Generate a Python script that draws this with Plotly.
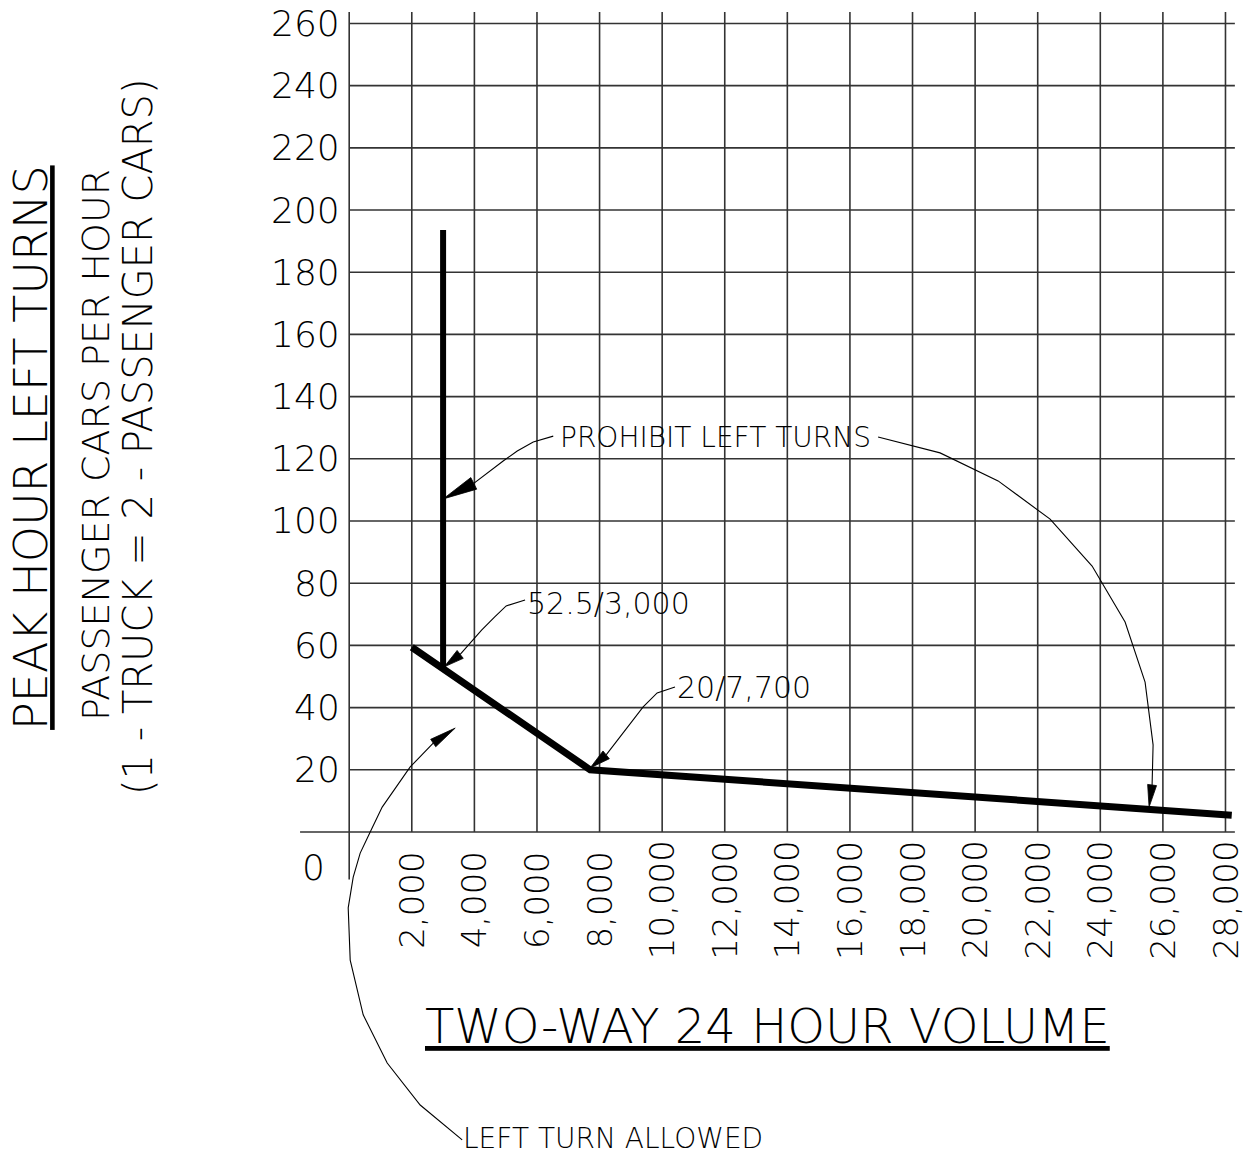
import math
import plotly.graph_objects as go

# ---------------- data ----------------
x_ticks = [2000, 4000, 6000, 8000, 10000, 12000, 14000, 16000, 18000, 20000, 22000, 24000, 26000, 28000]
x_tick_labels = ["2,000", "4,000", "6,000", "8,000", "10,000", "12,000", "14,000",
                 "16,000", "18,000", "20,000", "22,000", "24,000", "26,000", "28,000"]
y_ticks = [20, 40, 60, 80, 100, 120, 140, 160, 180, 200, 220, 240, 260]
y_tick_labels = ["20", "40", "60", "80", "100", "120", "140", "160", "180", "200", "220", "240", "260"]

# threshold curve (two-way 24h volume vs peak hour left turns)
threshold_volume = [2000, 3000, 7700, 28200]
threshold_left_turns = [59.4, 52.5, 20, 5.4]

# vertical prohibit line at 3,000
prohibit_volume = [3000, 3000]
prohibit_left_turns = [193.6, 52.5]

# callout leaders (volume, left turns) ending at an arrow tip
leader_prohibit_left_x = [6520, 5880, 5370, 4920, 3980]
leader_prohibit_left_y = [127.3, 125.4, 122.5, 119.3, 112.1]
tip_prohibit_left = (3003, 107.1)

leader_prohibit_right_x = [16900, 18880, 20735, 22396, 23738, 24792, 25431, 25687, 25655]
leader_prohibit_right_y = [127.0, 121.9, 112.9, 100.6, 85.5, 67.5, 48.2, 28.0, 15.1]
tip_prohibit_right = (25559, 8.0)

leader_525_x = [5620, 5016, 4650, 4230, 3546]
leader_525_y = [74.6, 72.7, 69.2, 64.9, 57.1]
tip_525 = (3035, 53.1)

leader_20_x = [10410, 9840, 9393, 8211]
leader_20_y = [46.6, 44.7, 40.2, 24.8]
tip_20 = (7700, 20.6)

leader_allowed_x = [3610, 2268, 1214, 447, 32, -32, 128, 351, 671, 1054, 1949, 2684]
leader_allowed_y = [-99.0, -87.8, -74.3, -58.8, -41.2, -24.4, -14.5, -6.8, 0.0, 8.0, 20.9, 28.6]
tip_allowed = (3387, 33.4)

# ---------------- layout geometry ----------------
W, H = 1249, 1156
L, R, T, B = 296, 11, 11, 0
X_RANGE = [-1700, 28400]
Y_RANGE = [-104.2, 264.0]
PX_X = (W - L - R) / (X_RANGE[1] - X_RANGE[0])
PX_Y = (H - T - B) / (Y_RANGE[1] - Y_RANGE[0])

FONT = "DejaVu Sans"
WEIGHT = 200
GRID = "#333333"

fig = go.Figure()

# grid lines
gx, gy = [], []
for v in y_ticks:
    gx += [0, 28300, None]
    gy += [v, v, None]
gx += [-1570, 28300, None]
gy += [0, 0, None]
for v in x_ticks:
    gx += [v, v, None]
    gy += [0, 263.7, None]
gx += [0, 0, None]
gy += [-15.3, 263.7, None]
fig.add_trace(go.Scatter(x=gx, y=gy, mode="lines", line=dict(color=GRID, width=1.6),
                         hoverinfo="skip", showlegend=False))

# main curves
fig.add_trace(go.Scatter(x=threshold_volume, y=threshold_left_turns, mode="lines",
                         line=dict(color="black", width=7), showlegend=False))
fig.add_trace(go.Scatter(x=prohibit_volume, y=prohibit_left_turns, mode="lines",
                         line=dict(color="black", width=6), showlegend=False))


def arrow_polygon(tip, base, half_w):
    tx, ty = tip[0] * PX_X, tip[1] * PX_Y
    bx, by = base[0] * PX_X, base[1] * PX_Y
    dx, dy = tx - bx, ty - by
    n = math.hypot(dx, dy)
    nx, ny = -dy / n * half_w, dx / n * half_w
    pts = [(tx, ty), (bx + nx, by + ny), (bx - nx, by - ny), (tx, ty)]
    return [p[0] / PX_X for p in pts], [p[1] / PX_Y for p in pts]


leaders = [
    (leader_prohibit_left_x, leader_prohibit_left_y, tip_prohibit_left, 6.5),
    (leader_prohibit_right_x, leader_prohibit_right_y, tip_prohibit_right, 4.5),
    (leader_525_x, leader_525_y, tip_525, 5.0),
    (leader_20_x, leader_20_y, tip_20, 5.0),
    (leader_allowed_x, leader_allowed_y, tip_allowed, 4.5),
]
for lx, ly, tip, hw in leaders:
    fig.add_trace(go.Scatter(x=lx, y=ly, mode="lines", line=dict(color="black", width=1.1),
                             hoverinfo="skip", showlegend=False))
    ax_, ay_ = arrow_polygon(tip, (lx[-1], ly[-1]), hw)
    fig.add_trace(go.Scatter(x=ax_, y=ay_, mode="lines", fill="toself", fillcolor="black",
                             line=dict(color="black", width=0.8), hoverinfo="skip", showlegend=False))

annotations = []
tick_font = dict(family=FONT, size=36, color="black", weight=WEIGHT)
for v, t in zip(y_ticks, y_tick_labels):
    annotations.append(dict(x=0, y=v, xref="x", yref="y", text=t, showarrow=False,
                            xanchor="right", yanchor="middle", xshift=-7, font=tick_font))
for v, t in zip(x_ticks, x_tick_labels):
    annotations.append(dict(x=v, y=0, xref="x", yref="y", text=t, showarrow=False, textangle=-90,
                            xanchor="center", yanchor="middle", yshift=-68,
                            font=dict(family=FONT, size=34, color="black", weight=WEIGHT)))
annotations.append(dict(x=0, y=0, xref="x", yref="y", text="0", showarrow=False,
                        xanchor="center", yanchor="middle", xshift=-36, yshift=-36, font=tick_font))

callouts = [
    ("PROHIBIT LEFT TURNS", 6672, 127.0, 28),
    ("52.5/3,000", 5617, 73.6, 30),
    ("20/7,700", 10410, 46.6, 30),
    ("LEFT TURN ALLOWED", 3560, -98.7, 28),
]
for t, x, y, s in callouts:
    annotations.append(dict(x=x, y=y, xref="x", yref="y", text=t, showarrow=False,
                            xanchor="left", yanchor="middle",
                            font=dict(family=FONT, size=s, color="black", weight=WEIGHT)))

annotations.append(dict(x=13350, y=-62.4, xref="x", yref="y", text="<u>TWO-WAY 24 HOUR VOLUME</u>",
                        showarrow=False, xanchor="center", yanchor="middle",
                        font=dict(family=FONT, size=48, color="black", weight=WEIGHT)))

annotations.append(dict(x=0, y=123.5, xref="paper", yref="y", text="<u>PEAK HOUR LEFT TURNS</u>",
                        showarrow=False, textangle=-90, xanchor="center", yanchor="middle", xshift=-265,
                        font=dict(family=FONT, size=46, color="black", weight=WEIGHT)))
annotations.append(dict(x=0, y=124.4, xref="paper", yref="y", text="PASSENGER CARS PER HOUR",
                        showarrow=False, textangle=-90, xanchor="center", yanchor="middle", xshift=-200,
                        font=dict(family=FONT, size=38, color="black", weight=WEIGHT)))
annotations.append(dict(x=0, y=127.0, xref="paper", yref="y", text="(1 - TRUCK = 2 - PASSENGER CARS)",
                        showarrow=False, textangle=-90, xanchor="center", yanchor="middle", xshift=-158,
                        font=dict(family=FONT, size=40, color="black", weight=WEIGHT)))

fig.update_layout(
    width=W, height=H,
    margin=dict(l=L, r=R, t=T, b=B),
    plot_bgcolor="white", paper_bgcolor="white",
    xaxis=dict(range=X_RANGE, visible=False, fixedrange=True),
    yaxis=dict(range=Y_RANGE, visible=False, fixedrange=True),
    annotations=annotations,
    showlegend=False,
    hovermode=False,
)

fig.write_html("out.html", config={"displayModeBar": False},
               post_script="document.body.style.margin='0';")
